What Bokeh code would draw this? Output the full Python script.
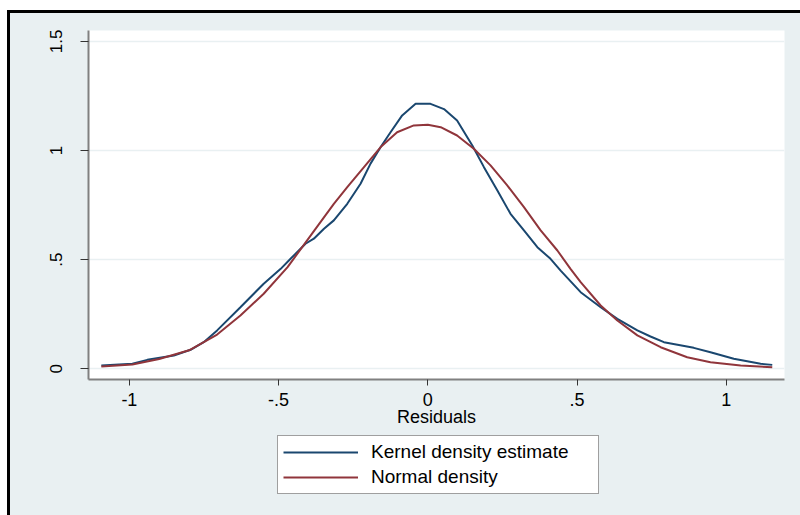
from bokeh.plotting import figure
from bokeh.models import Range1d, FixedTicker, Legend, LegendItem
from bokeh.layouts import column
from bokeh.embed import file_html
from bokeh.resources import INLINE

# ---- data ----
kernel_x = [-1.094, -0.99, -0.94, -0.851, -0.795, -0.751, -0.706, -0.628, -0.55, -0.493,
            -0.46, -0.41, -0.382, -0.348, -0.315, -0.27, -0.2255, -0.192, -0.158, -0.125,
            -0.086, -0.041, 0.009, 0.054, 0.098, 0.149, 0.188, 0.233, 0.277, 0.322,
            0.367, 0.411, 0.445, 0.512, 0.579, 0.635, 0.702, 0.746, 0.791, 0.891,
            0.947, 1.025, 1.115, 1.154]
kernel_y = [0.015, 0.023, 0.041, 0.061, 0.087, 0.122, 0.176, 0.282, 0.39, 0.458,
            0.504, 0.573, 0.596, 0.642, 0.68, 0.756, 0.848, 0.94, 1.016, 1.084,
            1.161, 1.214, 1.214, 1.19, 1.138, 1.023, 0.924, 0.817, 0.71, 0.634,
            0.557, 0.504, 0.45, 0.351, 0.282, 0.229, 0.176, 0.148, 0.122, 0.096,
            0.076, 0.046, 0.023, 0.018]

normal_x = [-1.094, -0.99, -0.9, -0.8, -0.706, -0.628, -0.55, -0.47, -0.38, -0.315,
            -0.27, -0.214, -0.158, -0.103, -0.047, 0.0, 0.043, 0.098, 0.154, 0.21,
            0.266, 0.322, 0.378, 0.434, 0.478, 0.512, 0.579, 0.635, 0.702, 0.78,
            0.869, 0.947, 1.048, 1.154]
normal_y = [0.011, 0.02, 0.045, 0.085, 0.157, 0.244, 0.344, 0.466, 0.634, 0.756,
            0.832, 0.924, 1.016, 1.084, 1.115, 1.118, 1.107, 1.069, 1.008, 0.932,
            0.84, 0.741, 0.634, 0.542, 0.458, 0.397, 0.29, 0.221, 0.153, 0.099,
            0.053, 0.03, 0.015, 0.007]

x_ticks = [-1, -0.5, 0, 0.5, 1]
x_tick_labels = ["-1", "-.5", "0", ".5", "1"]
y_ticks = [0, 0.5, 1, 1.5]
y_tick_labels = ["0", ".5", "1", "1.5"]
series_names = ["Kernel density estimate", "Normal density"]
x_title = "Residuals"

# ---- style ----
BG = "#E9F0F2"
NAVY = "#1A476F"
MAROON = "#90353B"
FONT = "Liberation Sans"

p = figure(width=790, height=419, output_backend="svg", toolbar_location=None,
           x_range=Range1d(-1.137, 1.195), y_range=Range1d(-0.049, 1.55),
           min_border_left=78, min_border_right=16, min_border_top=17,
           min_border_bottom=53,
           background_fill_color="white", border_fill_color=BG,
           outline_line_color=None)

r1 = p.line(kernel_x, kernel_y, line_color=NAVY, line_width=2)
r2 = p.line(normal_x, normal_y, line_color=MAROON, line_width=2)

# axes
p.xaxis.ticker = FixedTicker(ticks=x_ticks)
p.xaxis.major_label_overrides = {t: s for t, s in zip(x_ticks, x_tick_labels)}
p.yaxis.ticker = FixedTicker(ticks=y_ticks)
p.yaxis.major_label_overrides = {t: s for t, s in zip(y_ticks, y_tick_labels)}
p.xaxis.axis_label = x_title

for ax in (p.xaxis[0], p.yaxis[0]):
    ax.axis_line_color = "#808080"
    ax.axis_line_width = 2
    ax.major_tick_line_color = "#333333"
    ax.major_tick_line_width = 1
    ax.major_tick_in = 0
    ax.minor_tick_line_color = None
    ax.major_label_text_font = FONT
    ax.major_label_text_color = "black"
    ax.axis_label_text_font = FONT
    ax.axis_label_text_font_style = "normal"
    ax.axis_label_text_color = "black"

p.xaxis.major_tick_out = 6
p.xaxis.major_label_standoff = 7
p.xaxis.major_label_text_font_size = "18px"
p.xaxis.axis_label_text_font_size = "18px"
p.xaxis.axis_label_standoff = -2

p.yaxis.major_tick_out = 8
p.yaxis.major_label_standoff = 18
p.yaxis.major_label_text_font_size = "17px"
p.yaxis.major_label_orientation = "vertical"

p.xgrid.visible = False
p.ygrid.ticker = FixedTicker(ticks=y_ticks)
p.ygrid.grid_line_color = BG
p.ygrid.grid_line_width = 1.5

# ---- legend strip below the plot ----
leg = figure(width=790, height=83, output_backend="svg", toolbar_location=None,
             x_range=Range1d(0, 1), y_range=Range1d(0, 1),
             x_axis_type=None, y_axis_type=None,
             min_border_left=0, min_border_right=0, min_border_top=0,
             min_border_bottom=0,
             background_fill_color=None, border_fill_color=BG,
             outline_line_color=None)
leg.xgrid.visible = False
leg.ygrid.visible = False
# the same series, kept outside the strip's visible range so only their legend swatches show
l1 = leg.line(kernel_x, [v + 10 for v in kernel_y], line_color=NAVY, line_width=2)
l2 = leg.line(normal_x, [v + 10 for v in normal_y], line_color=MAROON, line_width=2)

legend = Legend(items=[LegendItem(label=series_names[0], renderers=[l1]),
                       LegendItem(label=series_names[1], renderers=[l2])],
                location=(189, 21), orientation="vertical",
                label_text_font=FONT, label_text_font_size="19px",
                label_text_color="black",
                glyph_width=75, glyph_height=22, label_height=22, label_width=222,
                label_standoff=13, spacing=3, padding=5, margin=0,
                border_line_color="#404040", border_line_width=1,
                background_fill_color="white", background_fill_alpha=1.0)
leg.add_layout(legend, "center")

layout = column(p, leg, spacing=0)
layout.styles = {"border-left": "3px solid black", "border-top": "3px solid black",
                 "margin-top": "10px", "margin-left": "7px",
                 "background-color": BG}

open("out.html", "w").write(file_html(layout, INLINE))
